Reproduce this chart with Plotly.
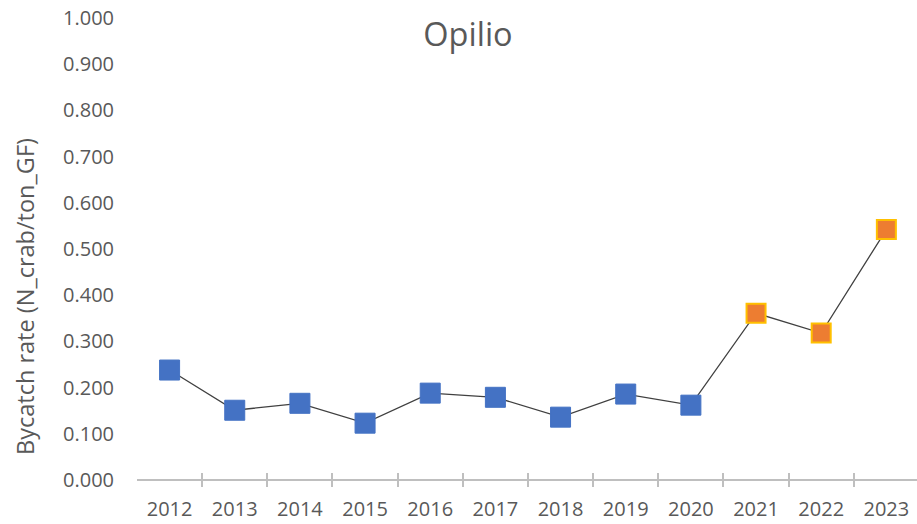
import plotly.graph_objects as go

years = ["2012", "2013", "2014", "2015", "2016", "2017", "2018", "2019", "2020", "2021", "2022", "2023"]
rates = [0.238, 0.151, 0.166, 0.123, 0.188, 0.179, 0.136, 0.186, 0.162, 0.361, 0.318, 0.542]
n_first = 9  # 2012-2020 blue, 2021-2023 orange
y_ticks = [0.0, 0.1, 0.2, 0.3, 0.4, 0.5, 0.6, 0.7, 0.8, 0.9, 1.0]

TXT = "#595959"
FONT = "Open Sans"
AX = "#BFBFBF"
W, H = 917, 524
ML, MT, MB = 137, 17, 37
YMIN = -7 / 463  # plot bottom sits 7px under the zero line so ticks cross it
YMAX = 1.002

fig = go.Figure()
fig.add_trace(go.Scatter(x=years, y=rates, mode="lines",
                         line=dict(color="#404040", width=1.3), hoverinfo="skip", showlegend=False))
fig.add_trace(go.Scatter(x=years[:n_first], y=rates[:n_first], mode="markers",
                         marker=dict(symbol="square", size=20, color="#4472C4",
                                     line=dict(color="#4472C4", width=1)), showlegend=False))
fig.add_trace(go.Scatter(x=years[n_first:], y=rates[n_first:], mode="markers",
                         marker=dict(symbol="square", size=19, color="#ED7D31",
                                     line=dict(color="#FFC000", width=2)), showlegend=False))

fig.update_layout(
    width=W, height=H,
    margin=dict(l=ML, r=0, t=MT, b=MB, autoexpand=False),
    paper_bgcolor="white", plot_bgcolor="white",
    font=dict(family=FONT, color=TXT, size=20),
    title=dict(text="Opilio", x=468/W, xref="container", xanchor="center",
               y=1 - 35/H, yref="container", yanchor="middle",
               font=dict(family=FONT, size=32.5, color=TXT)),
    xaxis=dict(type="category", range=[-0.5, 11.47], tickson="boundaries", automargin=False,
               ticks="inside", ticklen=14, tickwidth=1.5, tickcolor=AX, ticklabelstandoff=8,
               showline=False, showgrid=False, ticklabeloverflow="allow",
               tickfont=dict(family=FONT, size=20, color=TXT)),
    yaxis=dict(range=[YMIN, YMAX], tickvals=y_ticks, tickformat=".3f", showgrid=False,
               zeroline=True, zerolinecolor=AX, zerolinewidth=2, ticklabeloverflow="allow",
               showline=False, ticks="", ticklabelstandoff=22, automargin=False,
               tickfont=dict(family=FONT, size=20, color=TXT)),
    annotations=[dict(text="Bycatch rate (N_crab/ton_GF)", textangle=-90,
                      xref="paper", yref="paper", x=(25 - 137)/780, y=(487 - 297)/470,
                      xanchor="center", yanchor="middle", showarrow=False,
                      font=dict(family=FONT, size=23.5, color=TXT))],
)

fig.write_html("out.html", config={"displayModeBar": False},
               post_script="document.body.style.margin='0';")
